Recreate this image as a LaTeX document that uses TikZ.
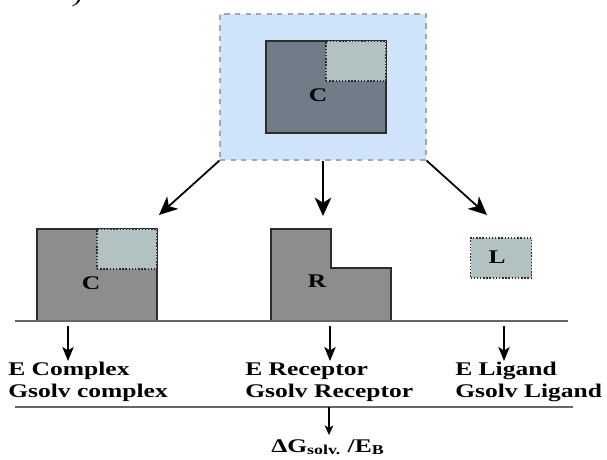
\documentclass[tikz,border=0pt]{standalone}
\usepackage{fontspec}
\setmainfont{Liberation Serif}[FakeStretch=1.32]
\usetikzlibrary{arrows.meta}

\definecolor{solvblue}{RGB}{207,228,250}
\definecolor{cplxslate}{RGB}{112,124,136}
\definecolor{ligpale}{RGB}{178,194,194}
\definecolor{recgray}{RGB}{141,141,141}
\definecolor{edgedark}{RGB}{45,45,45}

\tikzset{
  every node/.style={font=\bfseries\fontsize{11}{12}\selectfont, inner sep=0pt},
  solvbox/.style={draw=gray!70, dashed, fill=solvblue, line width=0.6pt},
  molbox/.style={draw=edgedark, line width=0.8pt},
  ligbox/.style={draw=edgedark, densely dotted, fill=ligpale, line width=0.8pt},
  floor/.style={draw=gray!80!black, line width=0.6pt},
  bigarrow/.style={-{Stealth[length=10.5pt, width=9.5pt, inset=3pt]}, line width=1pt},
  arr/.style={-{Stealth[length=8pt, width=6.5pt, inset=2pt]}, line width=0.7pt},
  smallarr/.style={-{Stealth[length=5.5pt, width=5pt, inset=1.5pt]}, line width=0.6pt}
}

\begin{document}
\begin{tikzpicture}[x=0.02cm, y=-0.02cm]

  \useasboundingbox (0,0) rectangle (607,459);

  % --- fragment of the panel label ---
  \node[font=\itshape\fontsize{12}{12}\selectfont, anchor=base] (panel) at (78,3) {)};

  % --- solvated complex on top ---
  \node[solvbox, minimum width=4.12cm, minimum height=2.92cm] (solv) at (323,87) {};
  \node[molbox, fill=cplxslate, minimum width=2.4cm, minimum height=1.84cm] (topcplx) at (326,87) {};
  \node[ligbox, minimum width=1.2cm, minimum height=0.8cm] (toplig) at (356,61) {};
  \node (topC) at (318,95) {C};

  % --- complex, receptor and ligand ---
  \node[molbox, fill=recgray, minimum width=2.4cm, minimum height=1.84cm] (cplx) at (97,275) {};
  \node[ligbox, minimum width=1.2cm, minimum height=0.8cm] (cplxlig) at (127,249) {};
  \node (cplxC) at (91,283) {C};

  \draw[molbox, fill=recgray] (271,229) -- (331,229) -- (331,268) -- (391,268)
        -- (391,321) -- (271,321) -- cycle;
  \node (recR) at (317,281) {R};

  \node[ligbox, minimum width=1.22cm, minimum height=0.8cm] (lig) at (501,258) {};
  \node (ligL) at (497,257) {L};

  % --- split arrows ---
  \coordinate (tipcplx) at (159,215);
  \coordinate (tiprec) at (323,216);
  \coordinate (tiplig) at (487,215);
  \draw[bigarrow] (solv.south west) -- (tipcplx);
  \draw[bigarrow] (solv.south) -- (tiprec);
  \draw[bigarrow] (solv.south east) -- (tiplig);

  % --- energy terms ---
  \draw[floor] (15,321) -- (568,321);

  \node[anchor=base west, align=left] (ecplx) at (8,397) {E Complex\\Gsolv complex};
  \node[anchor=base west, align=left] (erec) at (245,397) {E Receptor\\Gsolv Receptor};
  \node[anchor=base west, align=left] (elig) at (455,397) {E Ligand\\Gsolv Ligand};

  \coordinate (cplxtop) at (68,326);
  \coordinate (cplxend) at (68,361);
  \coordinate (rectop) at (330,326);
  \coordinate (recend) at (330,361);
  \coordinate (ligtop) at (504,326);
  \coordinate (ligend) at (504,361);
  \draw[arr] (cplxtop) -- (cplxend);
  \draw[arr] (rectop) -- (recend);
  \draw[arr] (ligtop) -- (ligend);

  % --- binding result ---
  \draw[floor] (15,407) -- (573,407);
  \node[anchor=base west] (dg) at (271,452) {ΔG\textsubscript{solv.} /E\textsubscript{B}};
  \coordinate (dgtop) at (329,407);
  \coordinate (dgend) at (329,435);
  \draw[smallarr] (dgtop) -- (dgend);

\end{tikzpicture}
\end{document}
